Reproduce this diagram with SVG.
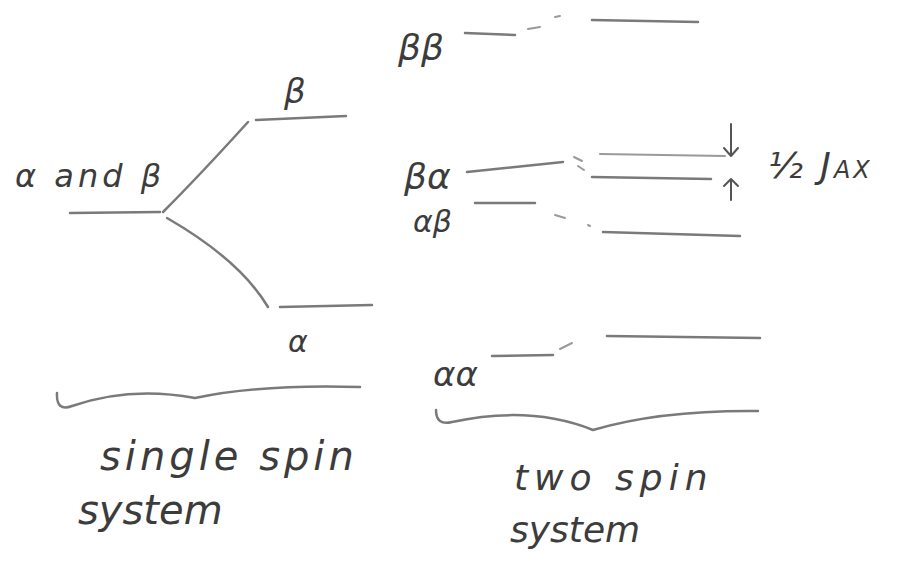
<svg xmlns="http://www.w3.org/2000/svg" width="921" height="562" viewBox="0 0 921 562">
<style>
.ln{fill:none;stroke:#7a7a7a;stroke-width:2.5;stroke-linecap:round}
.lt{fill:none;stroke:#9a9a9a;stroke-width:2;stroke-linecap:round}
.ar{fill:none;stroke:#555;stroke-width:2;stroke-linecap:round;stroke-linejoin:round}
.t{font-family:"DejaVu Sans","Liberation Sans",sans-serif;font-style:italic;fill:#3c3c3c}
</style>
<rect width="921" height="562" fill="#ffffff"/>
<g id="single-spin">
  <g id="level-ab"><path class="ln" d="M70,213 L160,212"/><text class="t" x="15" y="187" font-size="32" letter-spacing="4">α and β</text></g>
  <g id="level-b"><path class="ln" d="M256,120 L346,116"/><text class="t" x="284" y="103" font-size="34">β</text></g>
  <g id="level-a"><path class="ln" d="M280,307 L372,305"/><text class="t" x="288" y="352" font-size="30">α</text></g>
  <g id="brace-left"><path class="ln" d="M57,393 Q56,412 72,406 Q130,386 195,398 Q260,384 360,387"/></g>
  <text class="t" x="100" y="470" font-size="40" letter-spacing="4">single spin</text>
  <text class="t" x="78" y="524" font-size="40">system</text>
</g>
<g id="two-spin">
  <g id="level-bb"><text class="t" x="398" y="60" font-size="36">ββ</text><path class="ln" d="M465,33 L515,35"/><path class="ln" d="M592,20 L698,22"/></g>
  <g id="level-ba"><text class="t" x="404" y="189" font-size="36">βα</text><path class="ln" d="M467,172 L563,162"/><path class="lt" d="M600,154 L725,156"/><path class="ln" d="M592,177 L711,179"/></g>
  <g id="level-ab2"><text class="t" x="413" y="232" font-size="30">αβ</text><path class="ln" d="M475,203 L535,203"/><path class="ln" d="M603,232 L740,236"/></g>
  <g id="level-aa"><text class="t" x="433" y="386" font-size="34">αα</text><path class="ln" d="M492,356 L553,355"/><path class="ln" d="M607,336 L760,338"/></g>
  <g id="coupling"><path class="ar" d="M731,124 L731,156 M724,148 L731,156 L738,148"/><path class="ar" d="M731,200 L731,179 M724,186 L731,179 L738,186"/><text class="t" x="768" y="178" font-size="36" letter-spacing="3">½ J<tspan font-size="24">AX</tspan></text></g>
  <g id="brace-right"><path class="ln" d="M436,410 Q436,426 452,422 Q530,405 593,430 Q660,410 758,411"/></g>
  <text class="t" x="514" y="490" font-size="36" letter-spacing="6">two spin</text>
  <text class="t" x="510" y="542" font-size="36">system</text>
</g>
<g id="connectors">
  <path class="ln" d="M163,212 Q200,175 248,122"/>
  <path class="ln" d="M167,218 Q240,260 268,307"/>
  <path class="lt" d="M528,29 L540,27 M555,17 L560,16"/>
  <path class="lt" d="M574,157 L582,161 M578,166 L584,170"/>
  <path class="lt" d="M555,215 L565,218 M588,225 L590,226"/>
  <path class="lt" d="M560,349 L572,343"/>
</g>
</svg>
